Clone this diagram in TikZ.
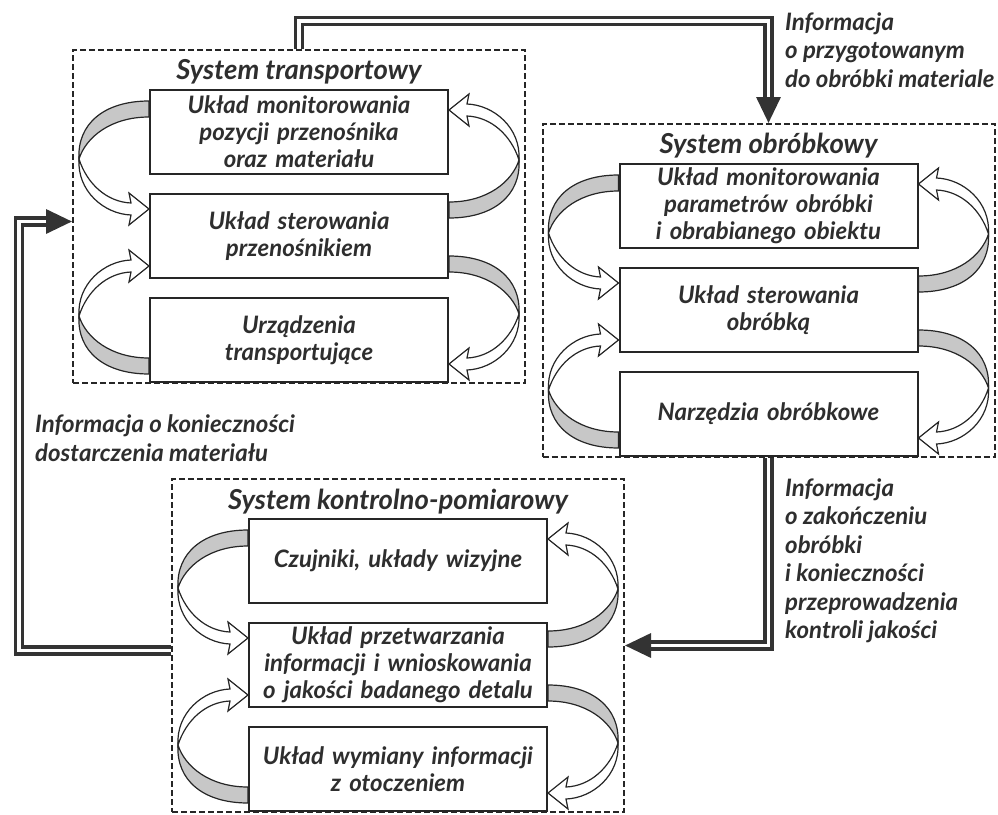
\documentclass[tikz,border=0pt]{standalone}
\usepackage{fontspec}
\setmainfont{Lato}
\usetikzlibrary{positioning,arrows.meta,calc,backgrounds}

\newcommand{\boxfont}{\fontsize{24}{27}\selectfont\bfseries\itshape}
\newcommand{\infofont}{\fontsize{24}{28.5}\selectfont\bfseries\itshape}
\newcommand{\titlefont}{\fontsize{27.5}{30}\selectfont\bfseries\itshape}

% twisted band arrow: tail at origin, head 100 below, bulging to the left
\newcommand{\ribbon}[3]{%
  \begin{scope}[shift={#1}, xscale=#2, yscale=#3, line width=1.2pt, draw=black!85]
    \filldraw[fill=black!22] (0,-8) .. controls (-45,-8) and (-72,15) .. (-70,50)
      .. controls (-63,28) and (-38,8) .. (0,8) -- cycle;
    \filldraw[fill=white] (-70,50) .. controls (-72,82) and (-45,105) .. (-18,106)
      -- (-20,116) -- (0,100) -- (-20,84) -- (-18,94)
      .. controls (-42,93) and (-62,75) .. (-70,50) -- cycle;
  \end{scope}}

\tikzset{
  system/.style={draw=black!85, dash pattern=on 6pt off 3pt, line width=2pt,
    minimum width=452pt, minimum height=333pt, inner sep=0pt},
  unit/.style={draw=black!85, line width=2pt, fill=white, minimum width=298pt,
    minimum height=84pt, text width=292pt, align=center, inner sep=0pt,
    font=\boxfont, text=black!82},
  title/.style={font=\titlefont, text=black!82},
  info/.style={font=\infofont, align=left, text=black!82, inner sep=0pt},
  flow/.style={draw=black!80, line width=3.4pt, double=white, double distance=3.5pt,
    -{Triangle[length=26pt,width=24pt]}},
}

\begin{document}
\begin{tikzpicture}[x=1pt, y=-1pt]
  \useasboundingbox (0,0) rectangle (998,814);

  % systems
  \node[system] (ts) at (299,216.5) {};
  \node[system] (os) at (768.5,290.5) {};
  \node[system] (ks) at (398,645.5) {};

  \node[title] (tstitle) at (299,72) {System transportowy};
  \node[title] (ostitle) at (768.5,146) {System obróbkowy};
  \node[title] (kstitle) at (398,502) {System kontrolno-pomiarowy};

  % units
  \node[unit] (t1) at (299,132) {Układ monitorowania\\pozycji przenośnika\\oraz materiału};
  \node[unit, below=18pt of t1] (t2) {Układ sterowania\\przenośnikiem};
  \node[unit, below=18pt of t2] (t3) {Urządzenia\\transportujące};

  \node[unit] (o1) at (768.5,206) {Układ monitorowania\\parametrów obróbki\\i obrabianego obiektu};
  \node[unit, below=18pt of o1] (o2) {Układ sterowania\\obróbką};
  \node[unit, below=18pt of o2] (o3) {Narzędzia obróbkowe};

  \node[unit] (k1) at (398,561) {Czujniki, układy wizyjne};
  \node[unit, below=18pt of k1] (k2) {Układ przetwarzania\\informacji i wnioskowania\\o jakości badanego detalu};
  \node[unit, below=18pt of k2] (k3) {Układ wymiany informacji\\z otoczeniem};

  % loops inside each system
  \begin{scope}[on background layer]
    \foreach \a/\b/\c in {t1/t2/t3, o1/o2/o3, k1/k2/k3} {
      \ribbon{($(\a.north west)+(0,20)$)}{1}{1}
      \ribbon{($(\b.north east)+(0,17)$)}{-1}{-1}
      \ribbon{($(\b.south east)+(0,-15)$)}{-1}{1}
      \ribbon{($(\c.south west)+(0,-17)$)}{1}{-1}
    }
  \end{scope}

  % information flow
  \draw[flow] (ts.north) -- ++(0,-28) -| (os.north);
  \draw[flow] (os.south) |- (ks.east);
  \draw[flow] ([yshift=-5pt]ks.west) -- ++(-152,0) |- ([yshift=-5pt]ts.west);

  \node[info, anchor=west] (infoready) at (785,50)
    {Informacja\\o przygotowanym\\do obróbki materiale};
  \node[info, anchor=west] (infodone) at (785,561)
    {Informacja\\o zakończeniu\\obróbki\\i konieczności\\przeprowadzenia\\kontroli jakości};
  \node[info, anchor=west] (infoneed) at (35,438)
    {Informacja o konieczności\\dostarczenia materiału};
\end{tikzpicture}
\end{document}
